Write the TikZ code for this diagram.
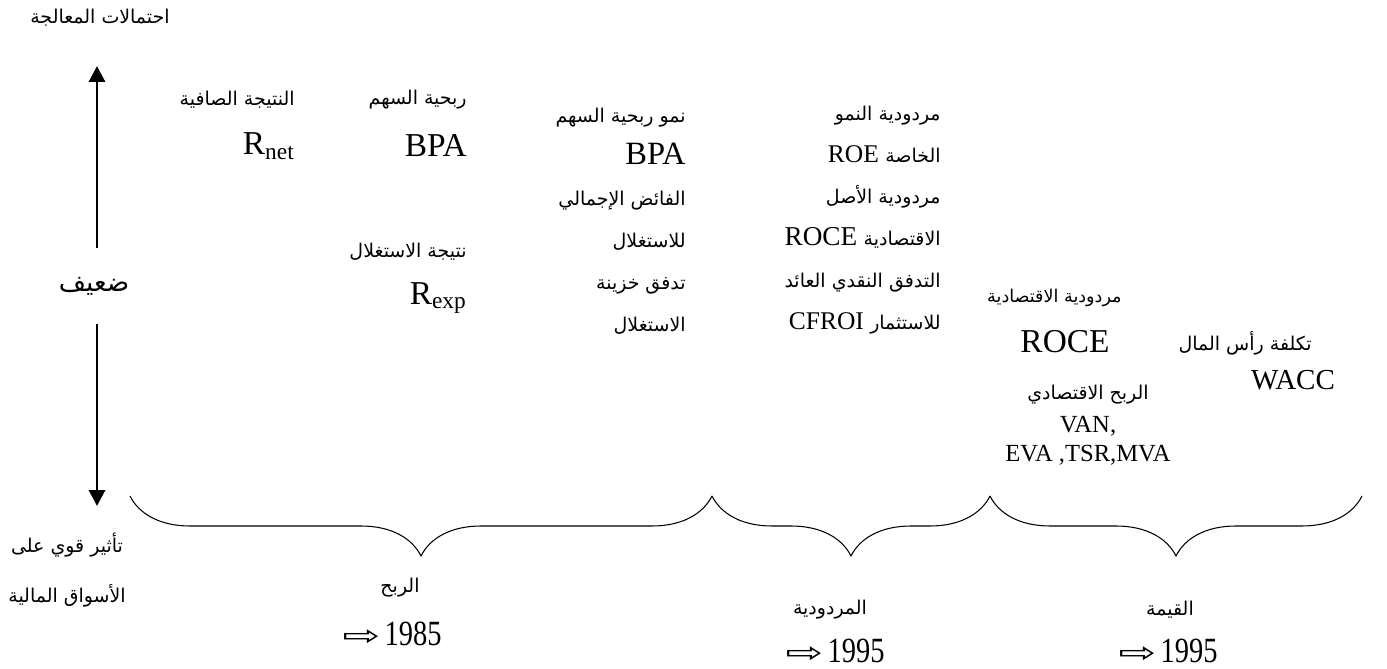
\documentclass[tikz,border=0pt]{standalone}
\usepackage{fontspec}
\setmainfont{Liberation Serif}
\newfontfamily\arabicfont[Script=Arabic]{DejaVu Sans}
\newfontfamily\symfont{DejaVu Sans}
\TeXXeTstate=1
\usetikzlibrary{arrows.meta,decorations.pathreplacing}
\newcommand\arsize{\fontsize{10.8}{23}\selectfont}
\newcommand{\ar}[1]{{\arabicfont\arsize\beginR #1\endR}}
\newcommand{\yr}[1]{\scalebox{1.6}[1]{\symfont\fontsize{16}{16}\selectfont ⇨}\ \scalebox{0.9}[1.12]{\fontsize{18}{18}\selectfont #1}}
\tikzset{
  lbl/.style={inner sep=0pt, anchor=east},
  big/.style={font=\fontsize{19}{19}\selectfont},
  mid/.style={font=\fontsize{14.5}{23.8}\selectfont},
  axis/.style={line width=1.7pt, -{Triangle[width=9pt,length=9pt]}},
  grp/.style={decorate, decoration={brace,mirror,amplitude=1.2cm}, line width=0.6pt}
}
\begin{document}
\begin{tikzpicture}[x=0.02cm,y=-0.02cm]
  \useasboundingbox (0,0) rectangle (1387,669);
  % left axis
  \node (title) at (100,18) {\ar{احتمالات المعالجة}};
  \node[minimum height=1.5cm, inner sep=0pt] (weak) at (94,286) {{\arabicfont\fontsize{15}{16}\selectfont\beginR ضعيف\endR}};
  \coordinate (up) at (97,66);
  \coordinate (down) at (97,506);
  \draw[axis] (weak.north -| up) -- (up);
  \draw[axis] (weak.south -| down) -- (down);
  \node[align=center, font=\fontsize{10}{28}\selectfont] (market) at (67,570) {\ar{تأثير قوي على}\\\ar{الأسواق المالية}};
  % columns
  \node[lbl] (netres) at (295,100) {\ar{النتيجة الصافية}};
  \node[lbl, big] (rnet) at (295,146) {R\textsubscript{net}};
  \node[lbl] (eps) at (467,100) {\ar{ربحية السهم}};
  \node[lbl, big] (bpa) at (467,146) {BPA};
  \node[lbl] (opres) at (467,252) {\ar{نتيجة الاستغلال}};
  \node[lbl, big] (rexp) at (467,298) {R\textsubscript{exp}};
  \node[lbl, mid, align=right] (growth) at (686,221) {\ar{نمو ربحية السهم}\\{\fontsize{18.5}{23.8}\selectfont BPA}\\\ar{الفائض الإجمالي}\\\ar{للاستغلال}\\\ar{تدفق خزينة}\\\ar{الاستغلال}};
  \node[lbl, mid, align=right] (rent) at (941,220) {\ar{مردودية النمو}\\\beginR\ar{الخاصة} ROE\endR\\\ar{مردودية الأصل}\\\beginR\ar{الاقتصادية} {\fontsize{15.5}{23.8}\selectfont ROCE}\endR\\\ar{التدفق النقدي العائد}\\\beginR\ar{للاستثمار} CFROI\endR};
  \node[lbl] (econ) at (1122,298) {{\arabicfont\fontsize{10}{12}\selectfont\beginR مردودية الاقتصادية\endR}};
  \node[big] (roce) at (1065,342) {ROCE};
  \node[align=center, font=\fontsize{14}{18.5}\selectfont] (eprofit) at (1088,425) {\ar{الربح الاقتصادي}\\VAN,\\[-2pt]EVA ,TSR,MVA};
  \node[lbl] (capcost) at (1312,343) {\ar{تكلفة رأس المال}};
  \node[font=\fontsize{16.5}{18}\selectfont] (wacc) at (1293,380) {WACC};
  % braces
  \coordinate (b0) at (130,496);
  \coordinate (b1) at (712,496);
  \coordinate (b2) at (990,496);
  \coordinate (b3) at (1362,496);
  \draw[grp] (b0) -- (b1);
  \draw[grp] (b1) -- (b2);
  \draw[grp] (b2) -- (b3);
  % periods
  \node (profit) at (400,588) {\ar{الربح}};
  \node[inner sep=0pt] (y1) at (392,634) {\yr{1985}};
  \node (renta) at (830,610) {\ar{المردودية}};
  \node[inner sep=0pt] (y2) at (835,651) {\yr{1995}};
  \node (value) at (1170,610) {\ar{القيمة}};
  \node[inner sep=0pt] (y3) at (1168,651) {\yr{1995}};
\end{tikzpicture}
\end{document}
